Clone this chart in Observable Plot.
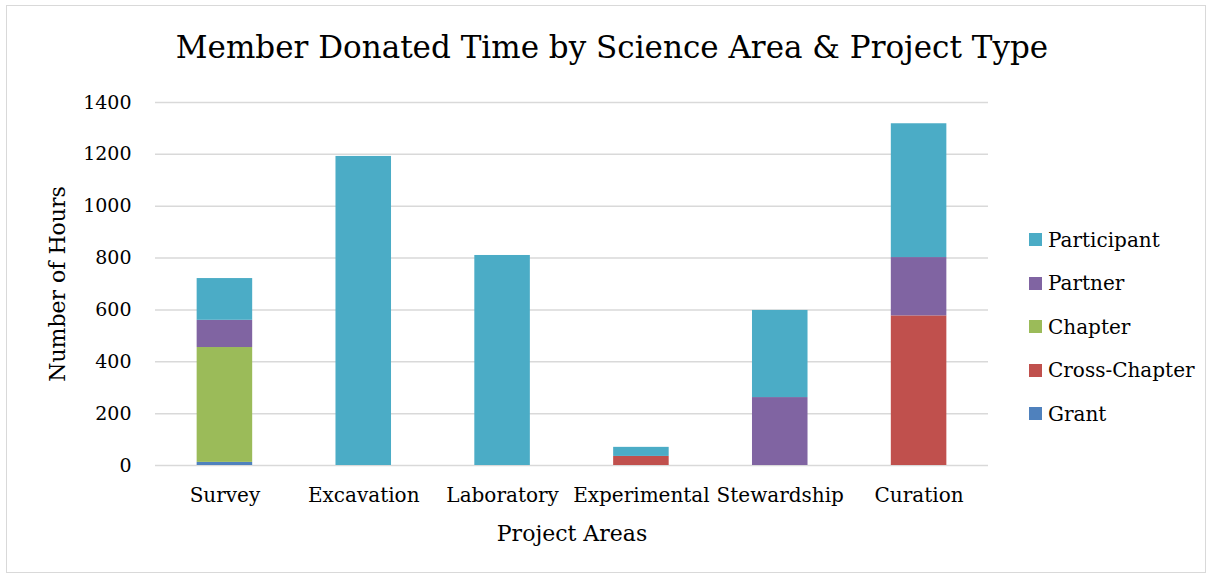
<!DOCTYPE html>
<html>
<head>
<meta charset="utf-8">
<script src="https://cdn.jsdelivr.net/npm/d3@7"></script>
<script src="https://cdn.jsdelivr.net/npm/@observablehq/plot@0.6"></script>
<style>
  html, body { margin: 0; padding: 0; background: #fff; }
  #wrap { position: relative; width: 1212px; height: 578px; overflow: hidden; font-family: "DejaVu Serif", serif; }
  #frame { position: absolute; left: 6px; top: 5px; width: 1200px; height: 568px; border: 1.5px solid #d9d9d9; box-sizing: border-box; }
  #title { position: absolute; left: 0; width: 1224px; top: 29px; text-align: center; font-size: 31px; line-height: 36px; color: #000; white-space: nowrap; }
  #chart { position: absolute; left: 0; top: 0; }
  #legend { position: absolute; left: 1029px; top: 218px; }
  .item { height: 43.5px; display: flex; align-items: center; font-size: 20px; color: #000; }
  .sw { width: 13px; height: 13px; margin-right: 6px; }
</style>
</head>
<body>
<div id="wrap">
  <div id="frame"></div>
  <div id="chart"></div>
  <div id="title">Member Donated Time by Science Area &amp; Project Type</div>
  <div id="legend"></div>
</div>
<script>
const categories = ["Survey", "Excavation", "Laboratory", "Experimental", "Stewardship", "Curation"];
const seriesNames = ["Grant", "Cross-Chapter", "Chapter", "Partner", "Participant"];
const seriesColors = ["#4F81BD", "#C0504D", "#9BBB59", "#8064A2", "#4BACC6"];
const grant        = [12, 0, 0, 0, 0, 0];
const crossChapter = [0, 0, 0, 35, 0, 577];
const chapter      = [443, 0, 0, 0, 0, 0];
const partner      = [105, 0, 0, 0, 262, 225];
const participant  = [161, 1192, 810, 35, 336, 516];
const yTicks = [0, 200, 400, 600, 800, 1000, 1200, 1400];

const seriesValues = [grant, crossChapter, chapter, partner, participant];
const rows = [];
categories.forEach((c, i) => {
  seriesNames.forEach((s, j) => {
    rows.push({category: c, series: s, value: seriesValues[j][i]});
  });
});

const chart = Plot.plot({
  width: 1212,
  height: 578,
  marginTop: 102,
  marginBottom: 113,
  marginLeft: 155,
  marginRight: 224,
  style: {fontFamily: "DejaVu Serif, serif", fontSize: "20px", color: "#000", background: "transparent"},
  x: {domain: categories, paddingInner: 0.6, paddingOuter: 0.3, round: false},
  y: {domain: [0, 1400]},
  color: {domain: seriesNames, range: seriesColors},
  marks: [
    Plot.gridY(yTicks, {stroke: "#d9d9d9", strokeOpacity: 1, strokeWidth: 1.5}),
    Plot.barY(rows, {x: "category", y: "value", fill: "series", order: null}),
    Plot.axisY(yTicks, {tickSize: 0, tickPadding: 24, fontSize: 19, tickFormat: d => String(d), label: null}),
    Plot.axisY({ticks: [], tickSize: 0, fontSize: 22, label: "Number of Hours", labelAnchor: "center", labelOffset: 106, labelArrow: "none"}),
    Plot.axisX({tickSize: 0, tickPadding: 22, fontSize: 20, label: null}),
    Plot.axisX({ticks: [], tickSize: 0, fontSize: 22, label: "Project Areas", labelAnchor: "center", labelOffset: 75})
  ]
});
document.getElementById("chart").appendChild(chart);

const legend = document.getElementById("legend");
for (let j = seriesNames.length - 1; j >= 0; j--) {
  const item = document.createElement("div");
  item.className = "item";
  const sw = document.createElement("div");
  sw.className = "sw";
  sw.style.background = seriesColors[j];
  const t = document.createElement("span");
  t.textContent = seriesNames[j];
  item.appendChild(sw);
  item.appendChild(t);
  legend.appendChild(item);
}
</script>
</body>
</html>
